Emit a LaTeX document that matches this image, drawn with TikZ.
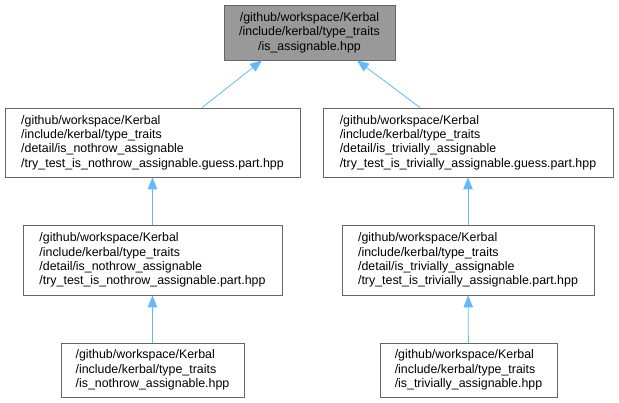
\documentclass[tikz,border=0pt]{standalone}
\usepackage{fontspec}
\setmainfont{Liberation Sans}
\usepackage{tikz}
\usepackage{xcolor}
\usetikzlibrary{arrows.meta,positioning}
\definecolor{edgeblue}{HTML}{63B8FF}
\definecolor{boxline}{HTML}{666666}
\definecolor{rootfill}{HTML}{999999}
\tikzset{
  filebox/.style={draw=boxline,fill=white,line width=0.8pt,
                  align=left,inner sep=0pt,
                  font=\fontsize{12.4}{14.3}\selectfont},
  rootbox/.style={filebox,fill=rootfill,align=center},
  incarr/.style={-{Triangle[length=12pt,width=9.5pt]},draw=edgeblue,line width=0.8pt}
}
\begin{document}
\begin{tikzpicture}[x=1pt,y=-1pt]
  \useasboundingbox (0,0) rectangle (619,403);
  % root header
  \node[rootbox,minimum width=171pt,minimum height=55pt] (root) at (309.5,32.5)
    {/github/workspace/Kerbal\\/include/kerbal/type\_traits\\/is\_assignable.hpp};

  % guess.part headers
  \node[filebox,minimum width=295pt,minimum height=69pt] (nguess) at (152.5,142.5)
    {/github/workspace/Kerbal\\/include/kerbal/type\_traits\\/detail/is\_nothrow\_assignable\\/try\_test\_is\_nothrow\_assignable.guess.part.hpp};
  \node[filebox,minimum width=290pt,minimum height=69pt] (tguess) at (468,142.5)
    {/github/workspace/Kerbal\\/include/kerbal/type\_traits\\/detail/is\_trivially\_assignable\\/try\_test\_is\_trivially\_assignable.guess.part.hpp};

  % part headers
  \node[filebox,minimum width=259pt,minimum height=70pt] (npart) at (152.5,260)
    {/github/workspace/Kerbal\\/include/kerbal/type\_traits\\/detail/is\_nothrow\_assignable\\/try\_test\_is\_nothrow\_assignable.part.hpp};
  \node[filebox,minimum width=252pt,minimum height=70pt] (tpart) at (468,260)
    {/github/workspace/Kerbal\\/include/kerbal/type\_traits\\/detail/is\_trivially\_assignable\\/try\_test\_is\_trivially\_assignable.part.hpp};

  % public headers
  \node[filebox,minimum width=183pt,minimum height=54pt] (npub) at (152.5,370)
    {/github/workspace/Kerbal\\/include/kerbal/type\_traits\\/is\_nothrow\_assignable.hpp};
  \node[filebox,minimum width=177pt,minimum height=54pt] (tpub) at (468.5,370)
    {/github/workspace/Kerbal\\/include/kerbal/type\_traits\\/is\_trivially\_assignable.hpp};

  % include edges
  \draw[incarr] (nguess.north -| 202,0) -- (root.south -| 262,0);
  \draw[incarr] (tguess.north -| 420,0) -- (root.south -| 357,0);
  \draw[incarr] (npart) -- (nguess);
  \draw[incarr] (tpart) -- (tguess);
  \draw[incarr] (npub) -- (npart);
  \draw[incarr] (tpub) -- (tpart);
\end{tikzpicture}
\end{document}
